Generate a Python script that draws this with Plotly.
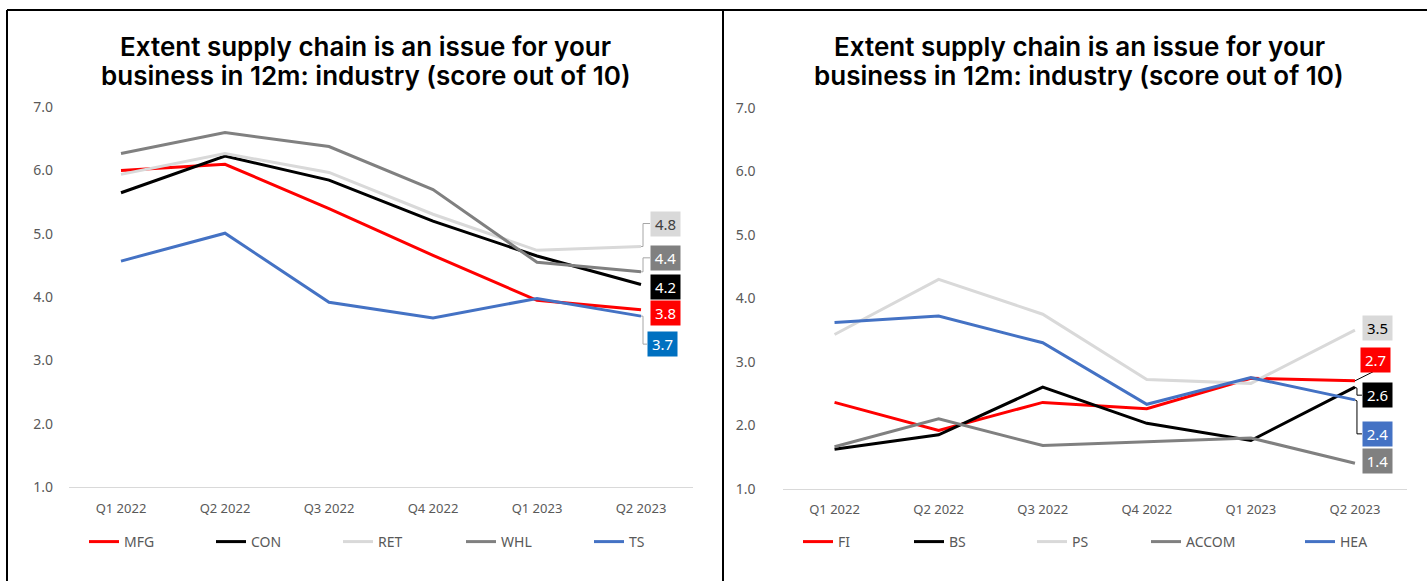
import plotly.graph_objects as go

W, H = 1427, 581

quarters = ["Q1 2022", "Q2 2022", "Q3 2022", "Q4 2022", "Q1 2023", "Q2 2023"]
y_ticks = [1, 2, 3, 4, 5, 6, 7]

title_lines = ["Extent supply chain is an issue for your",
               "business in 12m: industry (score out of 10)"]

# Left panel: goods-producing / trade industries
left_names = ["MFG", "CON", "RET", "WHL", "TS"]
mfg = [6.00, 6.10, 5.40, 4.66, 3.95, 3.8]
con = [5.65, 6.23, 5.85, 5.20, 4.65, 4.2]
ret = [5.94, 6.27, 5.97, 5.31, 4.74, 4.8]
whl = [6.27, 6.60, 6.38, 5.70, 4.55, 4.4]
ts = [4.57, 5.01, 3.92, 3.67, 3.98, 3.7]
left_values = [mfg, con, ret, whl, ts]

# Right panel: service industries
right_names = ["FI", "BS", "PS", "ACCOM", "HEA"]
fi = [2.36, 1.92, 2.36, 2.26, 2.74, 2.7]
bs = [1.62, 1.85, 2.60, 2.03, 1.76, 2.6]
ps = [3.43, 4.30, 3.75, 2.72, 2.66, 3.5]
accom = [1.66, 2.10, 1.68, 1.74, 1.80, 1.4]
hea = [3.62, 3.72, 3.30, 2.33, 2.75, 2.4]
right_values = [fi, bs, ps, accom, hea]

RED, BLACK, LIGHT, GREY, BLUE = "#ff0000", "#000000", "#d9d9d9", "#808080", "#4472c4"
line_colors = [RED, BLACK, LIGHT, GREY, BLUE]

TICK_FONT = dict(family="Noto Sans", size=13, color="#595959")


def px_x(p):
    return p / W


def px_y(p):
    return 1 - p / H


fig = go.Figure()

# label box styling per series: fill, text colour, x shift, y shift, leader path (pixels)
left_label_style = [
    dict(bg=RED, fg="white", dx=9, dy=-3, path=None),
    dict(bg=BLACK, fg="white", dx=9, dy=-3, path=None),
    dict(bg=LIGHT, fg="#404040", dx=9, dy=23, path="M0,0 L2,0 L2,23 L9,23"),
    dict(bg=GREY, fg="white", dx=9, dy=14, path="M0,0 L2,0 L2,14 L9,14"),
    dict(bg="#0070c0", fg="white", dx=6, dy=-28, path="M0,0 L2,0 L2,-28 L6,-28"),
]
right_label_style = [
    dict(bg=RED, fg="white", dx=5, dy=21, path="M0,0 L18,9"),
    dict(bg=BLACK, fg="white", dx=7, dy=-8, path="M0,0 L2,-1 L2,-8 L7,-8"),
    dict(bg=LIGHT, fg="black", dx=7, dy=2, path=None),
    dict(bg=GREY, fg="white", dx=7, dy=2, path=None),
    dict(bg=BLUE, fg="white", dx=7, dy=-34, path="M0,0 L2,-1 L2,-34 L7,-34"),
]

left_legend_x = [92, 219, 346, 469, 597]
right_legend_x = [806, 917, 1040, 1154, 1308]
legend_y = 542

panels = [
    dict(names=left_names, values=left_values, xa="x", ya="y", styles=left_label_style,
         legend_x=left_legend_x, leg_start=1, leader="#a6a6a6"),
    dict(names=right_names, values=right_values, xa="x2", ya="y2", styles=right_label_style,
         legend_x=right_legend_x, leg_start=6, leader="#000000"),
]

annotations = []
shapes = []
legends = {}

for panel in panels:
    for i, (name, vals) in enumerate(zip(panel["names"], panel["values"])):
        leg_idx = panel["leg_start"] + i
        leg_key = "legend" if leg_idx == 1 else f"legend{leg_idx}"
        fig.add_trace(go.Scatter(
            x=quarters, y=vals, name=name, mode="lines",
            line=dict(color=line_colors[i], width=3),
            xaxis=panel["xa"], yaxis=panel["ya"], legend=leg_key,
        ))
        legends[leg_key] = dict(
            x=px_x(panel["legend_x"][i] - 8), y=px_y(legend_y),
            xanchor="left", yanchor="middle", orientation="h",
            font=dict(family="Noto Sans", size=14, color="#595959"),
            bgcolor="rgba(0,0,0,0)", borderwidth=0, itemwidth=30,
        )
        st = panel["styles"][i]
        last = vals[-1]
        annotations.append(dict(
            x=quarters[-1], y=last, xref=panel["xa"], yref=panel["ya"],
            text=f"{last:.1f}", showarrow=False, xanchor="left", yanchor="middle",
            xshift=st["dx"], yshift=st["dy"], width=29, height=24,
            bgcolor=st["bg"], borderpad=0,
            font=dict(family="Noto Sans", size=15, color=st["fg"]),
        ))
        if st["path"]:
            shapes.append(dict(
                type="path", path=st["path"], xref=panel["xa"], yref=panel["ya"],
                xsizemode="pixel", ysizemode="pixel",
                xanchor=len(quarters) - 1, yanchor=last,
                line=dict(color=panel["leader"], width=1),
            ))

# titles, one annotation per line for tighter leading
for cx in (366, 1079):
    for line_text, cy in zip(title_lines, (47, 75)):
        annotations.append(dict(
            x=px_x(cx), y=px_y(cy), xref="paper", yref="paper", text=line_text,
            showarrow=False, xanchor="center", yanchor="middle",
            font=dict(family="Inter", size=26, color="black", weight=600),
        ))

# panel borders
border = dict(color="black", width=2)
shapes += [
    dict(type="line", xref="paper", yref="paper", x0=px_x(7), x1=1, y0=px_y(10), y1=px_y(10), line=border),
    dict(type="line", xref="paper", yref="paper", x0=px_x(7), x1=px_x(7), y0=px_y(10), y1=0, line=border),
    dict(type="line", xref="paper", yref="paper", x0=px_x(723), x1=px_x(723), y0=px_y(10), y1=0, line=border),
]

xaxis_common = dict(
    type="category", categoryorder="array", categoryarray=quarters,
    range=[-0.5, len(quarters) - 0.5], showgrid=False, zeroline=False,
    showline=True, linecolor="#d9d9d9", linewidth=1, ticks="",
    tickfont=TICK_FONT, ticklabelstandoff=9, fixedrange=True, automargin=False,
)
yaxis_common = dict(
    range=[1, 7], tickvals=y_ticks, tickformat=".1f", showgrid=False,
    zeroline=False, showline=False, ticks="", fixedrange=True, automargin=False,
    tickfont=dict(family="Noto Sans", size=14, color="#595959"),
)

fig.update_layout(
    width=W, height=H, autosize=False,
    margin=dict(l=0, r=0, t=0, b=0, pad=0, autoexpand=False),
    paper_bgcolor="white", plot_bgcolor="white",
    xaxis=dict(domain=[px_x(69), px_x(693)], anchor="y", **xaxis_common),
    yaxis=dict(domain=[px_y(487), px_y(107.3)], anchor="x", ticklabelstandoff=15, **yaxis_common),
    xaxis2=dict(domain=[px_x(782.5), px_x(1407)], anchor="y2", **xaxis_common),
    yaxis2=dict(domain=[px_y(488.7), px_y(108)], anchor="x2", ticklabelstandoff=26, **yaxis_common),
    annotations=annotations, shapes=shapes, showlegend=True,
    **legends,
)

fig.write_html("out.html")
